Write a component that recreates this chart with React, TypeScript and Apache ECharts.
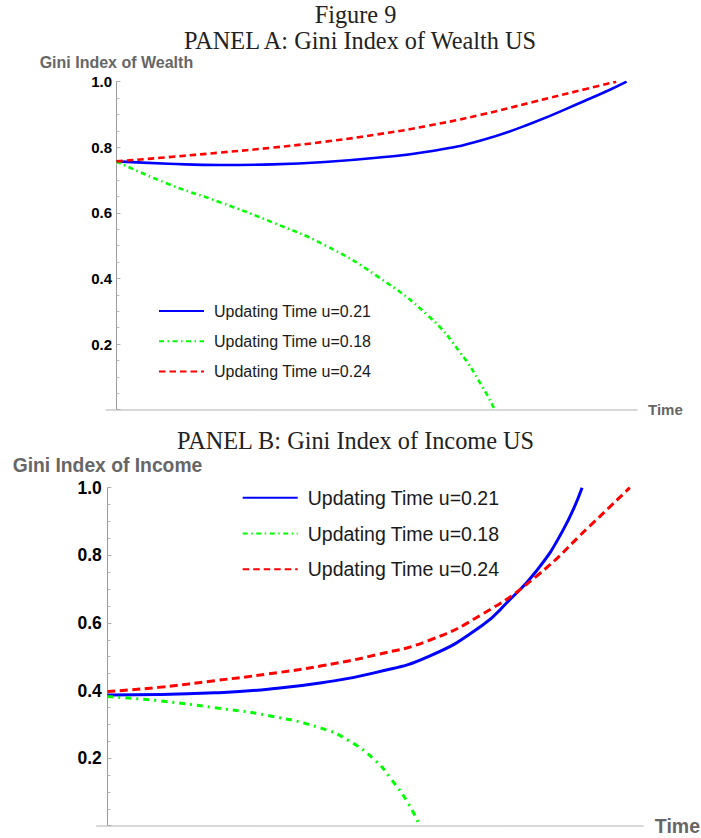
import { useEffect, useRef } from 'react';
import * as echarts from 'echarts';

// ---------- Panel A: Gini index of wealth ----------
const wealthT021 = [0, 1, 2, 3, 4, 5, 6, 7, 8, 9, 9.5, 9.8];
const wealthG021 = [0.757, 0.750, 0.746, 0.748, 0.755, 0.768, 0.787, 0.821, 0.875, 0.942, 0.977, 1.0];
const wealthT018 = [0, 1, 2, 3, 4, 5, 6, 6.6, 7, 7.27];
const wealthG018 = [0.757, 0.688, 0.632, 0.571, 0.502, 0.408, 0.285, 0.175, 0.078, 0.0];
const wealthT024 = [0, 1, 2, 3, 4, 5, 6, 7, 8, 9, 9.6];
const wealthG024 = [0.757, 0.770, 0.784, 0.799, 0.817, 0.839, 0.866, 0.899, 0.938, 0.977, 1.0];

// ---------- Panel B: Gini index of income ----------
const incomeT021 = [0, 1, 2, 3, 4, 5, 6, 7, 7.5, 8, 8.5, 8.86];
const incomeG021 = [0.387, 0.388, 0.393, 0.404, 0.423, 0.453, 0.501, 0.593, 0.667, 0.752, 0.873, 1.0];
const incomeT018 = [0, 1, 2, 3, 4, 4.5, 5, 5.3, 5.6, 5.83];
const incomeG018 = [0.382, 0.369, 0.349, 0.326, 0.288, 0.252, 0.193, 0.137, 0.07, 0.0];
const incomeT024 = [0, 1, 2, 3, 4, 5, 6, 7, 8, 9, 9.75];
const incomeG024 = [0.397, 0.410, 0.429, 0.449, 0.473, 0.505, 0.548, 0.626, 0.737, 0.886, 1.0];

const seriesNames = ['Updating Time u=0.21', 'Updating Time u=0.18', 'Updating Time u=0.24'];
const yTicks = [0, 0.2, 0.4, 0.6, 0.8, 1.0];
const timeRange = [-0.2, 10];

const figureTitle = 'Figure 9';
const panelATitle = 'PANEL A: Gini Index of Wealth US';
const panelBTitle = 'PANEL B: Gini Index of Income US';

const sans = "'Liberation Sans', Arial, Helvetica, sans-serif";
const serif = "'Liberation Serif', 'Times New Roman', serif";

const pair = (t: number[], v: number[]) => t.map((x, i) => [x, v[i]]);

const fmt = (v: number) => (Math.abs(v) < 1e-9 ? '' : v.toFixed(1));

const gridA = { left: 106, right: 64, top: 81.7, bottom: 428.3 };
const gridB = { left: 96.7, right: 56, top: 487.7, bottom: 12.3 };
const W = 701;
// offset that places the y axis at time = 0 (slightly inside the grid)
const zeroOffset = (g: { left: number; right: number }) =>
  -((0 - timeRange[0]) / (timeRange[1] - timeRange[0])) * (W - g.left - g.right);

function yAxisFor(grid: number, name: string, labelSize: number, nameSize: number, nameGap: number, margin: number, offset: number) {
  return {
    type: 'value',
    gridIndex: grid,
    position: 'left',
    offset,
    min: yTicks[0],
    max: yTicks[yTicks.length - 1],
    interval: 0.2,
    name,
    nameLocation: 'end',
    nameGap,
    nameTextStyle: { fontFamily: sans, fontWeight: 'bold', fontSize: nameSize, color: '#666666' },
    axisLine: { show: true, onZero: false, lineStyle: { color: '#9a9a9a', width: 1 } },
    axisTick: { show: true, inside: true, length: 4, lineStyle: { color: '#b0b0b0', width: 1 } },
    minorTick: { show: true, splitNumber: 4, length: 3, lineStyle: { color: '#b8b8b8', width: 1 } },
    splitLine: { show: false },
    axisLabel: {
      formatter: fmt,
      showMinLabel: false,
      fontFamily: sans,
      fontWeight: 'bold',
      fontSize: labelSize,
      color: '#000000',
      margin,
    },
  };
}

function xAxisFor(grid: number, nameSize: number, nameGap: number) {
  return {
    type: 'value',
    gridIndex: grid,
    min: timeRange[0],
    max: timeRange[1],
    name: 'Time',
    nameLocation: 'end',
    nameGap,
    nameTextStyle: { fontFamily: sans, fontWeight: 'bold', fontSize: nameSize, color: '#666666' },
    axisLine: { show: true, onZero: false, lineStyle: { color: '#cccccc', width: 1.5 } },
    axisTick: { show: false },
    axisLabel: { show: false },
    splitLine: { show: false },
  };
}

function lineSeries(name: string, grid: number, data: number[][], color: string, width: number, type: any) {
  return {
    name,
    type: 'line',
    xAxisIndex: grid,
    yAxisIndex: grid,
    data,
    symbol: 'none',
    showSymbol: false,
    smooth: 0.5,
    clip: true,
    lineStyle: { color, width, type, cap: 'butt' },
    itemStyle: { color },
    emphasis: { disabled: true },
  };
}

const hiddenSymbol = { color: 'rgba(0,0,0,0)', borderColor: 'rgba(0,0,0,0)', borderWidth: 0, opacity: 0 };

export default function App() {
  const ref = useRef<HTMLDivElement>(null);

  useEffect(() => {
    if (!ref.current) return;
    const chart = echarts.init(ref.current, null, { renderer: 'svg' });

    const option = {
      animation: false,
      backgroundColor: '#ffffff',
      graphic: [
        {
          type: 'text',
          x: 355.5,
          y: 14,
          style: { text: figureTitle, font: `24.3px ${serif}`, fill: '#222222', textAlign: 'center', textVerticalAlign: 'middle' },
        },
        {
          type: 'text',
          x: 360,
          y: 40.5,
          style: { text: panelATitle, font: `24.3px ${serif}`, fill: '#222222', textAlign: 'center', textVerticalAlign: 'middle' },
        },
        {
          type: 'text',
          x: 355.5,
          y: 440.5,
          style: { text: panelBTitle, font: `24.3px ${serif}`, fill: '#222222', textAlign: 'center', textVerticalAlign: 'middle' },
        },
      ],
      grid: [
        { ...gridA, containLabel: false },
        { ...gridB, containLabel: false },
      ],
      xAxis: [xAxisFor(0, 15, 11), xAxisFor(1, 19.5, 11.7)],
      yAxis: [
        yAxisFor(0, 'Gini Index of Wealth', 15, 16, 11, 4.4, zeroOffset(gridA)),
        yAxisFor(1, 'Gini Index of Income', 17.5, 19.3, 13, 5.7, zeroOffset(gridB)),
      ],
      legend: [
        {
          orient: 'vertical',
          left: 158,
          top: 301,
          padding: 0,
          itemWidth: 45,
          itemHeight: 14,
          itemGap: 10.3,
          selectedMode: false,
          data: seriesNames,
          itemStyle: hiddenSymbol,
          textStyle: { fontFamily: sans, fontSize: 16, color: '#1a1a1a', lineHeight: 20, padding: [0, 0, 0, 5] },
        },
        {
          orient: 'vertical',
          left: 241.7,
          top: 485.7,
          padding: 0,
          itemWidth: 55,
          itemHeight: 16,
          itemGap: 11.8,
          selectedMode: false,
          data: seriesNames,
          itemStyle: hiddenSymbol,
          textStyle: { fontFamily: sans, fontSize: 19.5, color: '#1a1a1a', lineHeight: 24, padding: [0, 0, 0, 5] },
        },
      ],
      series: [
        lineSeries(seriesNames[0], 0, pair(wealthT021, wealthG021), '#0000ff', 2.6, 'solid'),
        lineSeries(seriesNames[1], 0, pair(wealthT018, wealthG018), '#00ff00', 2.6, [5, 3.5, 1.5, 3.5]),
        lineSeries(seriesNames[2], 0, pair(wealthT024, wealthG024), '#ff0000', 2.6, [6.5, 4]),
        lineSeries(seriesNames[0], 1, pair(incomeT021, incomeG021), '#0000ff', 3, 'solid'),
        lineSeries(seriesNames[1], 1, pair(incomeT018, incomeG018), '#00ff00', 3, [6, 5, 2, 5]),
        lineSeries(seriesNames[2], 1, pair(incomeT024, incomeG024), '#ff0000', 3, [8, 4.5]),
      ],
    };

    chart.setOption(option as any);
    return () => chart.dispose();
  }, []);

  return (
    <div
      ref={ref}
      style={{ position: 'absolute', left: 0, top: 0, width: 701, height: 838, background: '#ffffff' }}
    />
  );
}
